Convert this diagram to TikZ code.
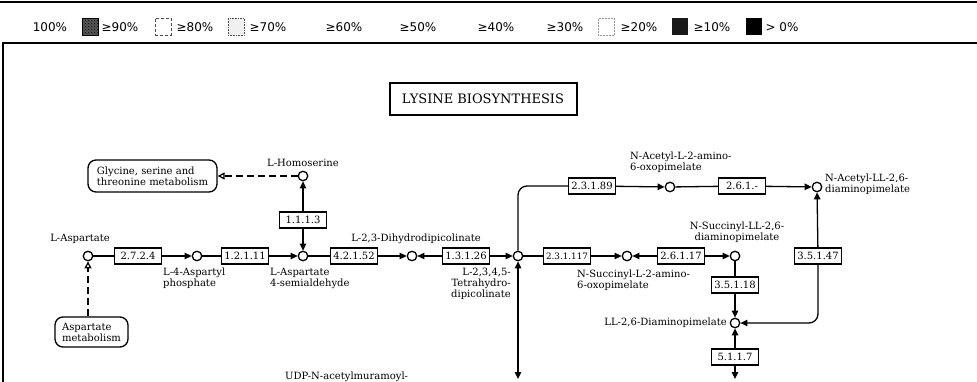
\documentclass[tikz,border=0pt]{standalone}
\usepackage{fontspec}
\setmainfont{DejaVu Serif}
\newfontfamily\legfont{DejaVu Sans}
\usetikzlibrary{arrows.meta,patterns}
\begin{document}
\begin{tikzpicture}[x=1pt,y=-1pt,
  cpd/.style={circle,draw,line width=1.3pt,inner sep=0pt,minimum size=9.5pt,fill=white},
  enz/.style={draw,line width=1.3pt,minimum width=47pt,minimum height=16pt,inner sep=1pt,font=\fontsize{10}{10}\selectfont},
  lbl/.style={font=\fontsize{10}{11}\selectfont,inner sep=0pt,align=left},
  mapbox/.style={draw,line width=1.3pt,rounded corners=8pt,inner sep=0pt,font=\fontsize{10}{11}\selectfont,align=left},
  link/.style={line width=1.3pt},
  arr/.style={link,-{Triangle[length=7pt,width=6.5pt]}},
  darr/.style={link,{Triangle[length=7pt,width=6.5pt]}-{Triangle[length=7pt,width=6.5pt]}},
  dlink/.style={line width=1.3pt,dash pattern=on 7pt off 4pt,-{Triangle[open,length=7pt,width=7pt]}},
  leg/.style={font=\legfont\fontsize{12}{12}\selectfont,inner sep=0pt},
  legbox/.style={minimum width=16pt,minimum height=17pt,inner sep=0pt}
]
\useasboundingbox (0,0) rectangle (977,382);
\clip (0,0) rectangle (977,382);
\fill[white] (0,0) rectangle (977,382);

% top rule and frame
\draw[line width=2pt] (0,2) -- (977,2);
\draw[line width=1.5pt] (3,382) -- (3,43) -- (977,43);

% legend
\node[leg] (l100) at (50,27) {100\%};
\node[legbox,fill=black!65,draw=black,pattern color=black] (b90) at (90,27) {};
\node[legbox,pattern=crosshatch dots,pattern color=black] (b90p) at (90,27) {};
\node[leg] (l90) at (120,27) {≥90\%};
\node[legbox,draw=black!70,densely dashed,line width=0.6pt] (b80) at (163,27) {};
\node[leg] (l80) at (195,27) {≥80\%};
\node[legbox,draw=black!70,densely dotted,fill=black!6,line width=0.6pt] (b70) at (236,27) {};
\node[leg] (l70) at (268,27) {≥70\%};
\node[leg] (l60) at (344,27) {≥60\%};
\node[leg] (l50) at (418,27) {≥50\%};
\node[leg] (l40) at (496,27) {≥40\%};
\node[leg] (l30) at (565,27) {≥30\%};
\node[legbox,draw=black!40,densely dotted,line width=0.5pt] (b20) at (606,27) {};
\node[leg] (l20) at (639,27) {≥20\%};
\node[legbox,fill=black!90] (b10) at (680,27) {};
\node[leg] (l10) at (712,27) {≥10\%};
\node[legbox,fill=black] (b0) at (754,27) {};
\node[leg] (l0) at (782,27) {> 0\%};

% title
\node[draw,line width=2pt,minimum width=187pt,minimum height=32pt,font=\fontsize{13}{13}\selectfont] (title) at (483,99) {LYSINE BIOSYNTHESIS};

% compounds
\node[cpd] (A) at (88,256) {};
\node[cpd] (B) at (197,256) {};
\node[cpd] (C) at (303,256) {};
\node[cpd] (D) at (303,176) {};
\node[cpd] (E) at (412,256) {};
\node[cpd] (F) at (518,256) {};
\node[cpd] (G) at (670,187) {};
\node[cpd] (H) at (817,187) {};
\node[cpd] (I) at (627,256) {};
\node[cpd] (J) at (735,256) {};
\node[cpd] (K) at (735,323) {};

% maps
\node[mapbox,minimum width=129pt,minimum height=32pt] (gly) at (152.5,176) {Glycine, serine and\\threonine metabolism};
\node[mapbox,minimum width=73pt,minimum height=30pt] (aspm) at (91.5,332) {Aspartate\\metabolism};

% enzymes
\node[enz] (e2724) at (138,256) {2.7.2.4};
\node[enz] (e12111) at (245,256) {1.2.1.11};
\node[enz] (e1113) at (303,220) {1.1.1.3};
\node[enz] (e42152) at (354,256) {4.2.1.52};
\node[enz] (e13126) at (466,256) {1.3.1.26};
\node[enz,font=\fontsize{8.8}{10}\selectfont] (e231117) at (567,256) {2.3.1.117};
\node[enz] (e23189) at (592,186) {2.3.1.89};
\node[enz] (e261) at (742,186) {2.6.1.-};
\node[enz] (e26117) at (681,256) {2.6.1.17};
\node[enz] (e35147) at (818,256) {3.5.1.47};
\node[enz] (e35118) at (735,285) {3.5.1.18};
\node[enz] (e5117) at (735,357) {5.1.1.7};

% labels
\node[lbl] (labA) at (80,239) {L-Aspartate};
\node[lbl,anchor=north west] (labB) at (163,268) {L-4-Aspartyl\\phosphate};
\node[lbl,anchor=north west] (labC) at (270,268) {L-Aspartate\\4-semialdehyde};
\node[lbl] (labD) at (303,163) {L-Homoserine};
\node[lbl] (labE) at (416,239) {L-2,3-Dihydrodipicolinate};
\node[lbl,anchor=north east,align=right] (labF) at (511,268) {L-2,3,4,5-\\Tetrahydro-\\dipicolinate};
\node[lbl,anchor=north west] (labG) at (630,152) {N-Acetyl-L-2-amino-\\6-oxopimelate};
\node[lbl,anchor=west] (labH) at (825,184) {N-Acetyl-LL-2,6-\\diaminopimelate};
\node[lbl,anchor=north west] (labI) at (577,270) {N-Succinyl-L-2-amino-\\6-oxopimelate};
\node[lbl,align=center] (labJ) at (737,232) {N-Succinyl-LL-2,6-\\diaminopimelate};
\node[lbl,anchor=east] (labK) at (727,323) {LL-2,6-Diaminopimelate};
\node[lbl,anchor=west] (labU) at (285,377) {UDP-N-acetylmuramoyl-};

% coordinates for free ends
\coordinate (fbot) at (518,379);
\coordinate (kbot) at (735,379);

% connectors
\draw[link] (A) -- (e2724);
\draw[arr] (e2724) -- (B);
\draw[link] (B) -- (e12111);
\draw[arr] (e12111) -- (C);
\draw[arr] (e1113) -- (C);
\draw[arr] (e1113) -- (D);
\draw[dlink] (D) -- (gly);
\draw[dlink] (aspm.north -| A) -- (A);
\draw[link] (C) -- (e42152);
\draw[arr] (e42152) -- (E);
\draw[arr] (e13126) -- (E);
\draw[arr] (e13126) -- (F);
\draw[link] (F) -- (e231117);
\draw[arr] (e231117) -- (I);
\draw[arr] (e26117) -- (I);
\draw[arr] (e26117) -- (J);
\draw[link] (J) -- (e35118);
\draw[arr] (e35118) -- (K);
\draw[arr] (e5117) -- (K);
\draw[arr] (e5117) -- (kbot);
\draw[darr] (fbot) -- (F);
\draw[link,rounded corners=9pt] (F) |- (e23189);
\draw[arr] (e23189) -- (G);
\draw[link] (G) -- (e261);
\draw[arr] (e261) -- (H);
\draw[arr] (e35147) -- (H);
\draw[arr,rounded corners=9pt] (e35147) |- (K);
\end{tikzpicture}
\end{document}
